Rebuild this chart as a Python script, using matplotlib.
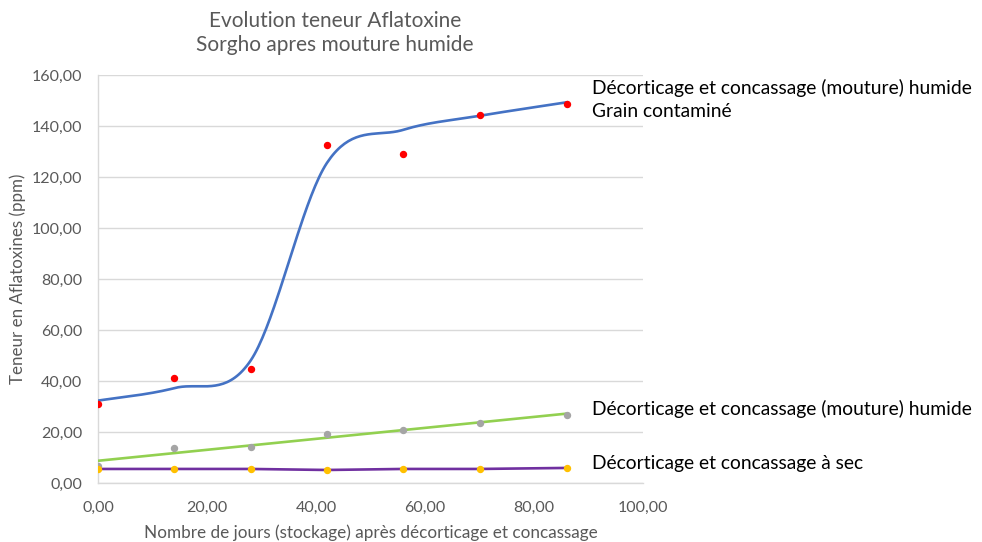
import matplotlib
matplotlib.use("Agg")
import matplotlib.pyplot as plt
import numpy as np

# Jours de stockage
jours = [0, 14, 28, 42, 56, 70, 86]

# Mouture humide, grain contaminé : mesures et courbe lissée
humide_contamine = [31.0, 41.2, 44.7, 132.5, 128.9, 144.3, 148.7]
humide_contamine_lisse = [32.3, 37.2, 48.0, 125.5, 138.5, 144.0, 149.3]

# Mouture humide (tendance linéaire)
humide = [6.8, 13.6, 14.2, 19.1, 20.8, 23.6, 26.5]

# Mouture à sec
sec = [5.5, 5.5, 5.5, 5.1, 5.5, 5.5, 5.9]

GRIS_TEXTE = "#595959"
GRIS_GRILLE = "#d9d9d9"


def lissage_bezier(x, y, n=40):
    """Smoothed line through the points (cubic Bezier, tangent = (P[i+1]-P[i-1])/6)."""
    p = np.column_stack([x, y]).astype(float)
    ext = np.vstack([p[0], p, p[-1]])
    out = []
    t = np.linspace(0, 1, n)[:, None]
    for i in range(len(p) - 1):
        p0, p1 = p[i], p[i + 1]
        c1 = p0 + (ext[i + 2] - ext[i]) / 6
        c2 = p1 - (ext[i + 3] - ext[i + 1]) / 6
        seg = ((1 - t) ** 3) * p0 + 3 * ((1 - t) ** 2) * t * c1 + 3 * (1 - t) * t ** 2 * c2 + t ** 3 * p1
        out.append(seg if i == 0 else seg[1:])
    seg = np.vstack(out)
    return seg[:, 0], seg[:, 1]


plt.rcParams["font.family"] = ["Lato", "DejaVu Sans"]

fig = plt.figure(figsize=(9.82, 5.42), dpi=100)
ax = fig.add_axes([0.0998, 0.1089, 0.555, 0.7527])

# Courbe lissée + mesures
xs, ys = lissage_bezier(jours, humide_contamine_lisse)
ax.plot(xs, ys, color="#4472C4", linewidth=1.9, zorder=3)
ax.plot(jours, humide_contamine, linestyle="none", marker="o", markersize=4.3,
        color="#FF0000", zorder=4)

# Tendance linéaire
pente, origine = np.polyfit(jours, humide, 1)
xl = np.array([jours[0], jours[-1]])
ax.plot(xl, pente * xl + origine, color="#92D050", linewidth=1.9, zorder=3)
ax.plot(jours, humide, linestyle="none", marker="o", markersize=4.3,
        color="#A5A5A5", zorder=4)

# Mouture à sec
ax.plot(jours, sec, color="#7030A0", linewidth=1.9, zorder=3)
ax.plot(jours, sec, linestyle="none", marker="o", markersize=4.3,
        color="#FFC000", zorder=4)

ax.set_xlim(0, 100)
ax.set_ylim(0, 160)
ax.set_xticks(np.arange(0, 101, 20))
ax.set_yticks(np.arange(0, 161, 20))
fmt = lambda v: f"{v:.2f}".replace(".", ",")
ax.set_xticklabels([fmt(v) for v in np.arange(0, 101, 20)])
ax.set_yticklabels([fmt(v) for v in np.arange(0, 161, 20)])
ax.tick_params(length=0, labelsize=11.5, colors=GRIS_TEXTE)
ax.tick_params(axis="y", pad=11.5)
ax.tick_params(axis="x", pad=13)

for side in ["top", "right"]:
    ax.spines[side].set_visible(False)
for side in ["left", "bottom"]:
    ax.spines[side].set_color(GRIS_GRILLE)
    ax.spines[side].set_linewidth(1.0)
ax.grid(axis="y", color=GRIS_GRILLE, linewidth=1.0, zorder=0)
ax.set_axisbelow(True)

ax.set_xlabel("Nombre de jours (stockage) après décorticage et concassage",
              fontsize=12.3, color=GRIS_TEXTE, labelpad=7)
ax.set_ylabel("Teneur en Aflatoxines (ppm)", fontsize=12.2, color=GRIS_TEXTE, labelpad=4)

fig.text(0.341, 1 - 33 / 542, "Evolution teneur Aflatoxine\nSorgho apres mouture humide",
         ha="center", va="center", fontsize=15, color=GRIS_TEXTE, linespacing=1.3)

# Étiquettes des séries
fig.text(0.603, 1 - 99.5 / 542, "Décorticage et concassage (mouture) humide\nGrain contaminé",
         ha="left", va="center", fontsize=13.9, color="black", linespacing=1.4)
fig.text(0.603, 1 - 409 / 542, "Décorticage et concassage (mouture) humide",
         ha="left", va="center", fontsize=13.9, color="black")
fig.text(0.603, 1 - 464 / 542, "Décorticage et concassage à sec",
         ha="left", va="center", fontsize=13.9, color="black")

fig.savefig("out.png", dpi=100)
